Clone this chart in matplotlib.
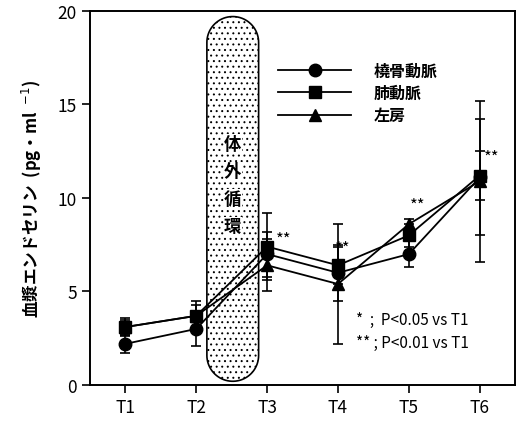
import numpy as np
import matplotlib
matplotlib.use('Agg')
import matplotlib.pyplot as plt
from matplotlib.patches import Polygon
from matplotlib.lines import Line2D

plt.rcParams['font.family'] = ['Noto Sans CJK JP', 'DejaVu Sans']
plt.rcParams['hatch.linewidth'] = 0.7

times = ['T1', 'T2', 'T3', 'T4', 'T5', 'T6']
radial = [2.2, 3.0, 7.0, 6.0, 7.0, 11.1]
radial_err = [0.5, 0.9, 1.2, 1.5, 0.7, 3.1]
pulmonary = [3.1, 3.7, 7.4, 6.4, 8.0, 11.2]
pulmonary_err = [0.5, 0.8, 1.8, 1.0, 0.6, 1.3]
atrium = [3.1, 3.7, 6.4, 5.4, 8.6, 10.9]
atrium_err = [0.4, 0.6, 1.4, 3.2, 0.3, 4.3]
labels = ['橈骨動脈', '肺動脈', '左房']
stars = ['**', '**', '**', '**']
star_x = [3.12, 3.95, 5.02, 6.06]
star_y = [7.8, 7.3, 9.6, 12.2]

fig = plt.figure(figsize=(5.23, 4.27), dpi=100)
ax = fig.add_axes([0.172, 0.096, 0.813, 0.876])
ax.set_xlim(0.5, 6.5)
ax.set_ylim(0, 20)

x = np.arange(1, 7)

# bypass band (rounded ends)
ppx = 0.813 * 523 / 6.0
ppy = 0.876 * 427 / 20.0
cx, hw = 2.515, 0.365
ry = hw * ppx / ppy
top, bot = 19.7, 0.2
t = np.linspace(0, np.pi, 40)
upper = np.column_stack([cx + hw * np.cos(t), top - ry + ry * np.sin(t)])
lower = np.column_stack([cx - hw * np.cos(t), bot + ry - ry * np.sin(t)])
band = Polygon(np.vstack([upper, lower]), closed=True, facecolor='white',
               edgecolor='black', hatch='...', lw=1.2, zorder=1)
ax.add_patch(band)
for i, ch in enumerate('体外循環'):
    ax.text(cx, 12.9 - i * 1.47, ch, ha='center', va='center', fontsize=12.5,
            fontweight='bold', zorder=2,
            bbox=dict(facecolor='white', edgecolor='none', pad=0.3))

series = [(atrium, atrium_err, '^'), (radial, radial_err, 'o'),
          (pulmonary, pulmonary_err, 's')]
for (y, e, m) in series:
    ax.errorbar(x, y, yerr=e, fmt='-' + m, color='black', ms=9, lw=1.3,
                elinewidth=1.2, capsize=3.5, capthick=1.2, zorder=3)

for s, sx, sy in zip(stars, star_x, star_y):
    ax.text(sx, sy, s, fontsize=12, ha='left', va='center', zorder=4)

ax.text(4.26, 3.5, '*  ;  P<0.05 vs T1', fontsize=11, va='center')
ax.text(4.26, 2.3, '** ; P<0.01 vs T1', fontsize=11, va='center')

handles = [Line2D([], [], color='black', marker=m, ms=9, lw=1.3)
           for m in ['o', 's', '^']]
ax.legend(handles, labels, loc='upper left', bbox_to_anchor=(0.442, 0.862),
          frameon=False, handlelength=4.6, handletextpad=1.4,
          labelspacing=0.4, borderpad=0, borderaxespad=0,
          prop={'size': 11.5, 'weight': 'bold'})

ax.set_xticks(x)
ax.set_xticklabels(times)
ax.set_yticks([0, 5, 10, 15, 20])
ax.tick_params(direction='out', length=6, width=1.2, labelsize=12.5)
for sp in ax.spines.values():
    sp.set_linewidth(1.4)
ax.set_ylabel('血漿エンドセリン  (pg・ml  $^{-1}$)', fontsize=12,
              fontweight='bold', labelpad=10)

fig.savefig('out.png', dpi=100)
